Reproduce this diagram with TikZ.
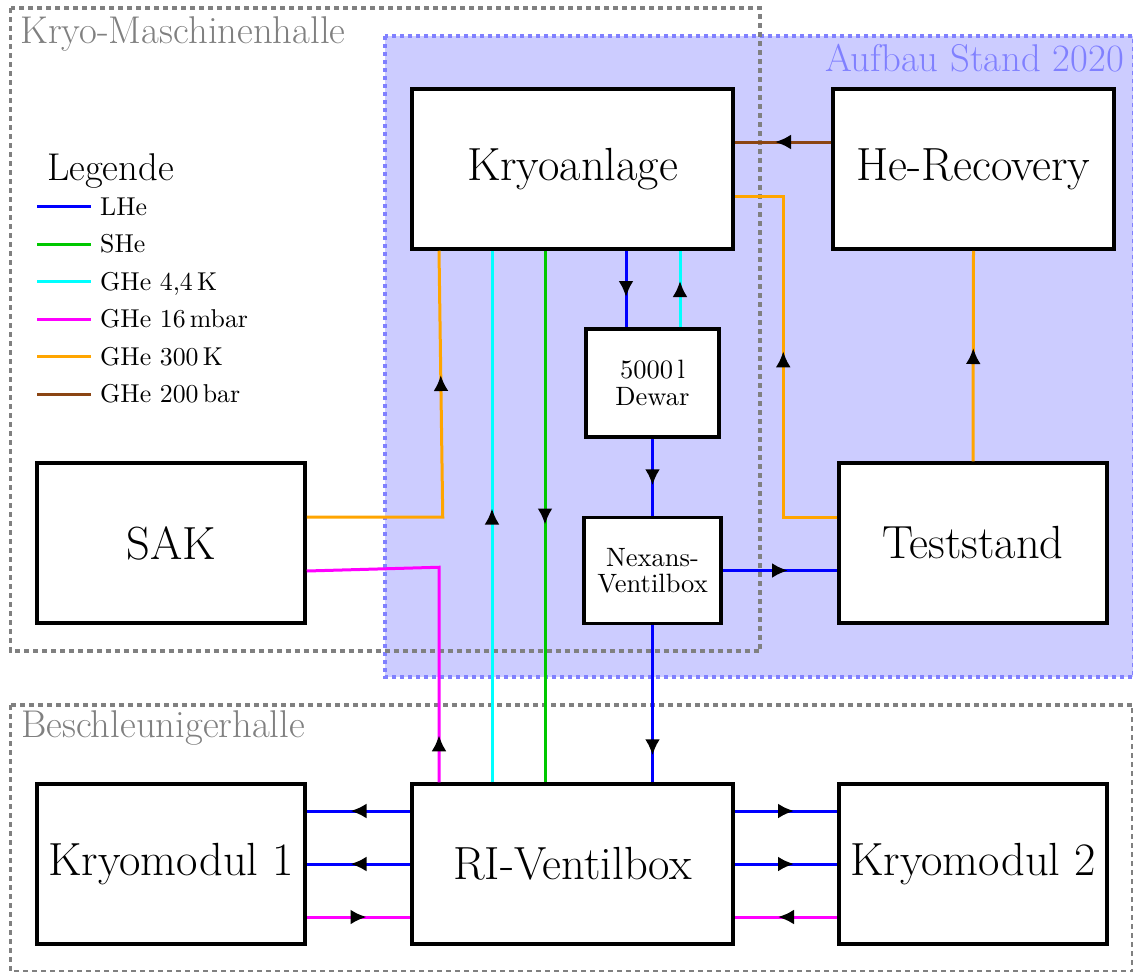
\documentclass[tikz,border=0pt]{standalone}
\usepackage{fontspec}
\usetikzlibrary{arrows.meta,decorations.markings}

% Latin Modern cuts with fixed design sizes
\newfontfamily\rmten{lmroman10-regular}[Extension=.otf]
\newfontfamily\rmseventeen{lmroman17-regular}[Extension=.otf]

% medium colours
\definecolor{lhe}{RGB}{0,0,255}
\definecolor{she}{RGB}{0,200,0}
\definecolor{ghecold}{RGB}{0,255,255}
\definecolor{ghevac}{RGB}{255,0,255}
\definecolor{ghewarm}{RGB}{255,165,0}
\definecolor{ghehp}{RGB}{139,69,19}
% areas
\definecolor{hallgray}{RGB}{128,128,128}
\definecolor{standline}{RGB}{128,128,255}
\definecolor{standfill}{RGB}{204,204,255}

\tikzset{
  unit/.style={draw=black, line width=3.5pt, fill=white, inner sep=0pt,
    align=center, font=\rmseventeen\fontsize{46.5}{55}\selectfont},
  small unit/.style={unit, font=\rmten\fontsize{26.5}{26.5}\selectfont},
  pipe/.style={line width=3pt},
  flow/.style={postaction={decorate}, decoration={markings,
    mark=at position #1 with {\pgftransformxshift{8pt}\arrow{Latex[length=16pt,width=15pt,black]}}}},
  flow/.default=0.5,
  hall/.style={draw=hallgray, line width=3.5pt, dash pattern=on 5pt off 4pt},
  hall label/.style={text=hallgray, font=\rmseventeen\fontsize{38.7}{44}\selectfont, inner sep=0pt, anchor=base west},
  legend text/.style={font=\rmten\fontsize{25.8}{30}\selectfont, inner sep=0pt, anchor=base west},
}

\begin{document}
\begin{tikzpicture}[x=1pt,y=-1pt]
\useasboundingbox (0,0) rectangle (1133,972);

% area of the 2020 set-up
\draw[draw=standline, fill=standfill, line width=3.5pt, dash pattern=on 4pt off 4pt]
  (385,36) rectangle (1133.5,677);
% halls
\draw[hall] (10.5,8) rectangle (760,651);
\draw[hall] (10.5,705) rectangle (1132.5,971.5);

\node[hall label] (lblmh) at (20,43) {Kryo-Maschinenhalle};
\node[hall label] (lblbh) at (21,737) {Beschleunigerhalle};
\node[hall label, text=standline, anchor=base east] (lblstand) at (1124,71) {Aufbau Stand 2020};

% legend
\node[font=\rmseventeen\fontsize{38.7}{44}\selectfont, inner sep=0pt, anchor=base west] (legtitle) at (47,180) {Legende};
\foreach \col/\txt/\yy [count=\i] in {lhe/LHe/206.5, she/SHe/244, ghecold/{GHe 4,4\,K}/281.5,
    ghevac/{GHe 16\,mbar}/319, ghewarm/{GHe 300\,K}/356.5, ghehp/{GHe 200\,bar}/394}{
  \coordinate (leg\i a) at (37,\yy);
  \coordinate (leg\i b) at (91,\yy);
  \draw[pipe, \col] (leg\i a) -- (leg\i b);
  \node[legend text] (leg\i t) at (100,\yy+8.6) {\txt};
}

% units
\node[unit, minimum width=321pt, minimum height=160pt] (kryo) at (572.5,169) {Kryoanlage};
\node[unit, minimum width=281pt, minimum height=160pt] (herec) at (973.5,169) {He-Recovery};
\node[small unit, minimum width=133pt, minimum height=108pt] (dewar) at (652.5,383) {5000\,l\\Dewar};
\node[small unit, minimum width=137pt, minimum height=106pt] (nexans) at (652.5,570.5) {Nexans-\\Ventilbox};
\node[unit, minimum width=268pt, minimum height=160pt] (sak) at (171,543) {SAK};
\node[unit, minimum width=268pt, minimum height=160pt] (test) at (973,543) {Teststand};
\node[unit, minimum width=268pt, minimum height=160pt] (km1) at (171,864) {Kryomodul 1};
\node[unit, minimum width=321pt, minimum height=160pt] (ri) at (572.5,864) {RI-Ventilbox};
\node[unit, minimum width=268pt, minimum height=160pt] (km2) at (973,864) {Kryomodul 2};

% high-pressure return
\draw[pipe, ghehp, flow] ([yshift=27pt]herec.west) -- ([yshift=27pt]kryo.east);
% warm gas
\draw[pipe, ghewarm, flow] ([yshift=26pt]test.west) -- ++(-54,0) |- ([yshift=-27pt]kryo.east);
\draw[pipe, ghewarm, flow] (test.north) -- (herec.south);
\draw[pipe, ghewarm, flow=270pt] ([yshift=26pt]sak.east) -- ++(136,0) -- ([xshift=-133.5pt]kryo.south);
% low-pressure gas
\draw[pipe, ghevac, flow=39pt] ([xshift=-133.5pt]ri.north) -- ++(0,-215) -- ([yshift=-28pt]sak.east);
% transfer lines to the accelerator
\draw[pipe, ghecold, flow] ([xshift=-80.5pt]ri.north) -- ([xshift=-80.5pt]kryo.south);
\draw[pipe, she, flow] ([xshift=-27.5pt]kryo.south) -- ([xshift=-27.5pt]ri.north);
% dewar
\draw[pipe, lhe, flow] ([xshift=53.5pt]kryo.south) -- ([xshift=-26.5pt]dewar.north);
\draw[pipe, ghecold, flow] ([xshift=27.5pt]dewar.north) -- ([xshift=107.5pt]kryo.south);
\draw[pipe, lhe, flow] (dewar.south) -- (nexans.north);
\draw[pipe, lhe, flow] (nexans.east) -- (nexans.east -| test.west);
\draw[pipe, lhe, flow=122pt] (nexans.south) -- (nexans.south |- ri.north);
% cryomodules
\draw[pipe, lhe, flow] ([yshift=53pt]ri.west) -- ([yshift=53pt]km1.east);
\draw[pipe, lhe, flow] (ri.west) -- (km1.east);
\draw[pipe, ghevac, flow] ([yshift=-53pt]km1.east) -- ([yshift=-53pt]ri.west);
\draw[pipe, lhe, flow] ([yshift=53pt]ri.east) -- ([yshift=53pt]km2.west);
\draw[pipe, lhe, flow] (ri.east) -- (km2.west);
\draw[pipe, ghevac, flow] ([yshift=-53pt]km2.west) -- ([yshift=-53pt]ri.east);
\end{tikzpicture}
\end{document}
